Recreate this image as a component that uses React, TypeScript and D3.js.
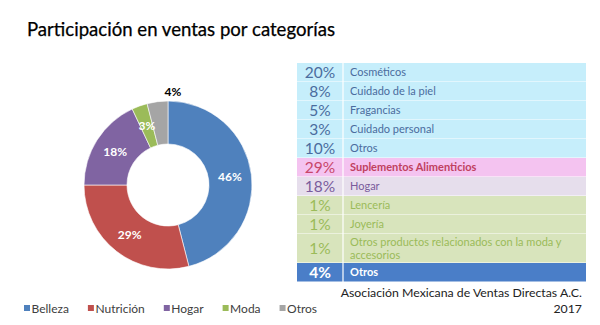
import React from 'react';
import * as d3 from 'd3';

const categories = ['Belleza', 'Nutrición', 'Hogar', 'Moda', 'Otros'];
const shares = [46, 29, 18, 3, 4];
const colors = ['#4F81BD', '#C0504D', '#8064A2', '#9BBB59', '#A5A5A5'];

const tablePercents = ['20%', '8%', '5%', '3%', '10%', '29%', '18%', '1%', '1%', '1%', '4%'];
const tableLabels = [
  'Cosméticos',
  'Cuidado de la piel',
  'Fragancias',
  'Cuidado personal',
  'Otros',
  'Suplementos Alimenticios',
  'Hogar',
  'Lencería',
  'Joyería',
  'Otros productos relacionados con la moda y accesorios',
  'Otros',
];
const tableGroups = ['Belleza', 'Belleza', 'Belleza', 'Belleza', 'Belleza', 'Nutrición', 'Hogar', 'Moda', 'Moda', 'Moda', 'Otros'];

const title = 'Participación en ventas por categorías';
const sourceLines = ['Asociación Mexicana de Ventas Directas A.C.', '2017'];

const FONT = 'Lato, "Open Sans", sans-serif';

const groupStyle: Record<string, { bg: string; pct: string; txt: string; bold: boolean }> = {
  'Belleza': { bg: '#C6EEFB', pct: '#4A6C9E', txt: '#4A6C9E', bold: false },
  'Nutrición': { bg: '#F4C3F0', pct: '#C8466A', txt: '#C0405F', bold: true },
  'Hogar': { bg: '#E6DEEC', pct: '#7A5C9C', txt: '#7A5C9C', bold: false },
  'Moda': { bg: '#D8E4BC', pct: '#9BBB59', txt: '#9BBB59', bold: false },
  'Otros': { bg: '#4A7EC8', pct: '#FFFFFF', txt: '#FFFFFF', bold: true },
};

function wrap(s: string, max: number): string[] {
  const words = s.split(' ');
  const lines: string[] = [];
  let cur = '';
  for (const w of words) {
    const t = cur ? cur + ' ' + w : w;
    if (t.length > max && cur) {
      lines.push(cur);
      cur = w;
    } else cur = t;
  }
  if (cur) lines.push(cur);
  return lines;
}

let measureCtx: CanvasRenderingContext2D | null = null;
function textWidth(s: string, size: number): number {
  if (!measureCtx && typeof document !== 'undefined') {
    measureCtx = document.createElement('canvas').getContext('2d');
  }
  if (!measureCtx) return s.length * size * 0.5;
  measureCtx.font = `${size}px Lato`;
  return measureCtx.measureText(s).width;
}

export default function App() {
  const W = 600, H = 325;
  const cx = 168, cy = 185, rOut = 84, rIn = 41;

  const pie = d3.pie<number>().sort(null).value((d) => d)(shares);
  const arc = d3.arc<d3.PieArcDatum<number>>().innerRadius(rIn).outerRadius(rOut);
  const labelArc = d3.arc<d3.PieArcDatum<number>>().innerRadius((rIn + rOut) / 2).outerRadius((rIn + rOut) / 2);

  // table layout
  const tx0 = 297, tx1 = 586, tcol = 343, ty0 = 63;
  const lineH = 10, baseH = 19;
  const wrapped = tableLabels.map((l) => wrap(l, 42));
  const heights = wrapped.map((ls) => baseH + (ls.length - 1) * lineH);
  const tops: number[] = [];
  let acc = ty0;
  heights.forEach((h) => { tops.push(acc); acc += h; });

  // legend: measured widths
  const legendPos: number[] = [];
  let lx = 24;
  categories.forEach((c) => {
    legendPos.push(lx);
    lx += 7.5 + textWidth(c, 12) + 19;
  });

  return (
    <svg width={W} height={H} style={{ position: 'absolute', left: 0, top: 0, background: '#fff' }} fontFamily={FONT}>
      <rect x={0} y={0} width={W} height={H} fill="#fff" />
      <text x={27} y={36} fontSize={18.5} fill="#000" stroke="#000" strokeWidth={0.25} textLength={308} lengthAdjust="spacingAndGlyphs">{title}</text>

      <g transform={`translate(${cx},${cy})`}>
        {pie.map((p, i) => (
          <path key={i} d={arc(p) || ''} fill={colors[i]} stroke="#fff" strokeWidth={0.6} />
        ))}
        {pie.map((p, i) => {
          if (i === pie.length - 1) {
            const a = p.endAngle;
            const r = rOut + 9;
            return (
              <text key={'l' + i} x={Math.sin(a) * r + 5} y={-Math.cos(a) * r} dy="0.35em" textAnchor="middle" fontSize={12} fontWeight="bold" fill="#000">{p.data}%</text>
            );
          }
          const [x, y] = labelArc.centroid(p);
          return (
            <text key={'l' + i} x={x} y={y} dy="0.35em" textAnchor="middle" fontSize={12} fontWeight="bold" fill="#fff">{p.data}%</text>
          );
        })}
      </g>

      <g>
        {tableLabels.map((_, i) => {
          const st = groupStyle[tableGroups[i]];
          const y = tops[i], h = heights[i];
          const lines = wrapped[i];
          return (
            <g key={i}>
              <rect x={tx0} y={y} width={tx1 - tx0} height={h} fill={st.bg} />
              <line x1={tx0} x2={tx1} y1={y + h} y2={y + h} stroke="#fff" strokeWidth={1} />
              <text x={(tx0 + tcol) / 2} y={y + h / 2} dy="0.36em" textAnchor="middle" fontSize={15.5} fontWeight={tableGroups[i] === 'Otros' ? 'bold' : 'normal'} fill={st.pct}>{tablePercents[i]}</text>
              {lines.map((ln, j) => (
                <text key={j} x={tcol + 7} y={y + h / 2 + (j - (lines.length - 1) / 2) * 12.5} dy="0.36em" fontSize={11} fontWeight={st.bold ? 'bold' : 'normal'} fill={st.txt}>{ln}</text>
              ))}
            </g>
          );
        })}
        <line x1={tcol} x2={tcol} y1={ty0} y2={acc} stroke="#fff" strokeWidth={1.2} />
      </g>

      <g>
        {categories.map((c, i) => (
          <g key={c} transform={`translate(${legendPos[i]},0)`}>
            <rect x={0} y={305} width={6} height={6} fill={colors[i]} />
            <text x={7.5} y={312.5} fontSize={12} fill="#404040">{c}</text>
          </g>
        ))}
      </g>

      <text x={582} y={297} textAnchor="end" fontSize={12.3} fill="#222">{sourceLines[0]}</text>
      <text x={582} y={313} textAnchor="end" fontSize={12.3} fill="#222">{sourceLines[1]}</text>
    </svg>
  );
}
